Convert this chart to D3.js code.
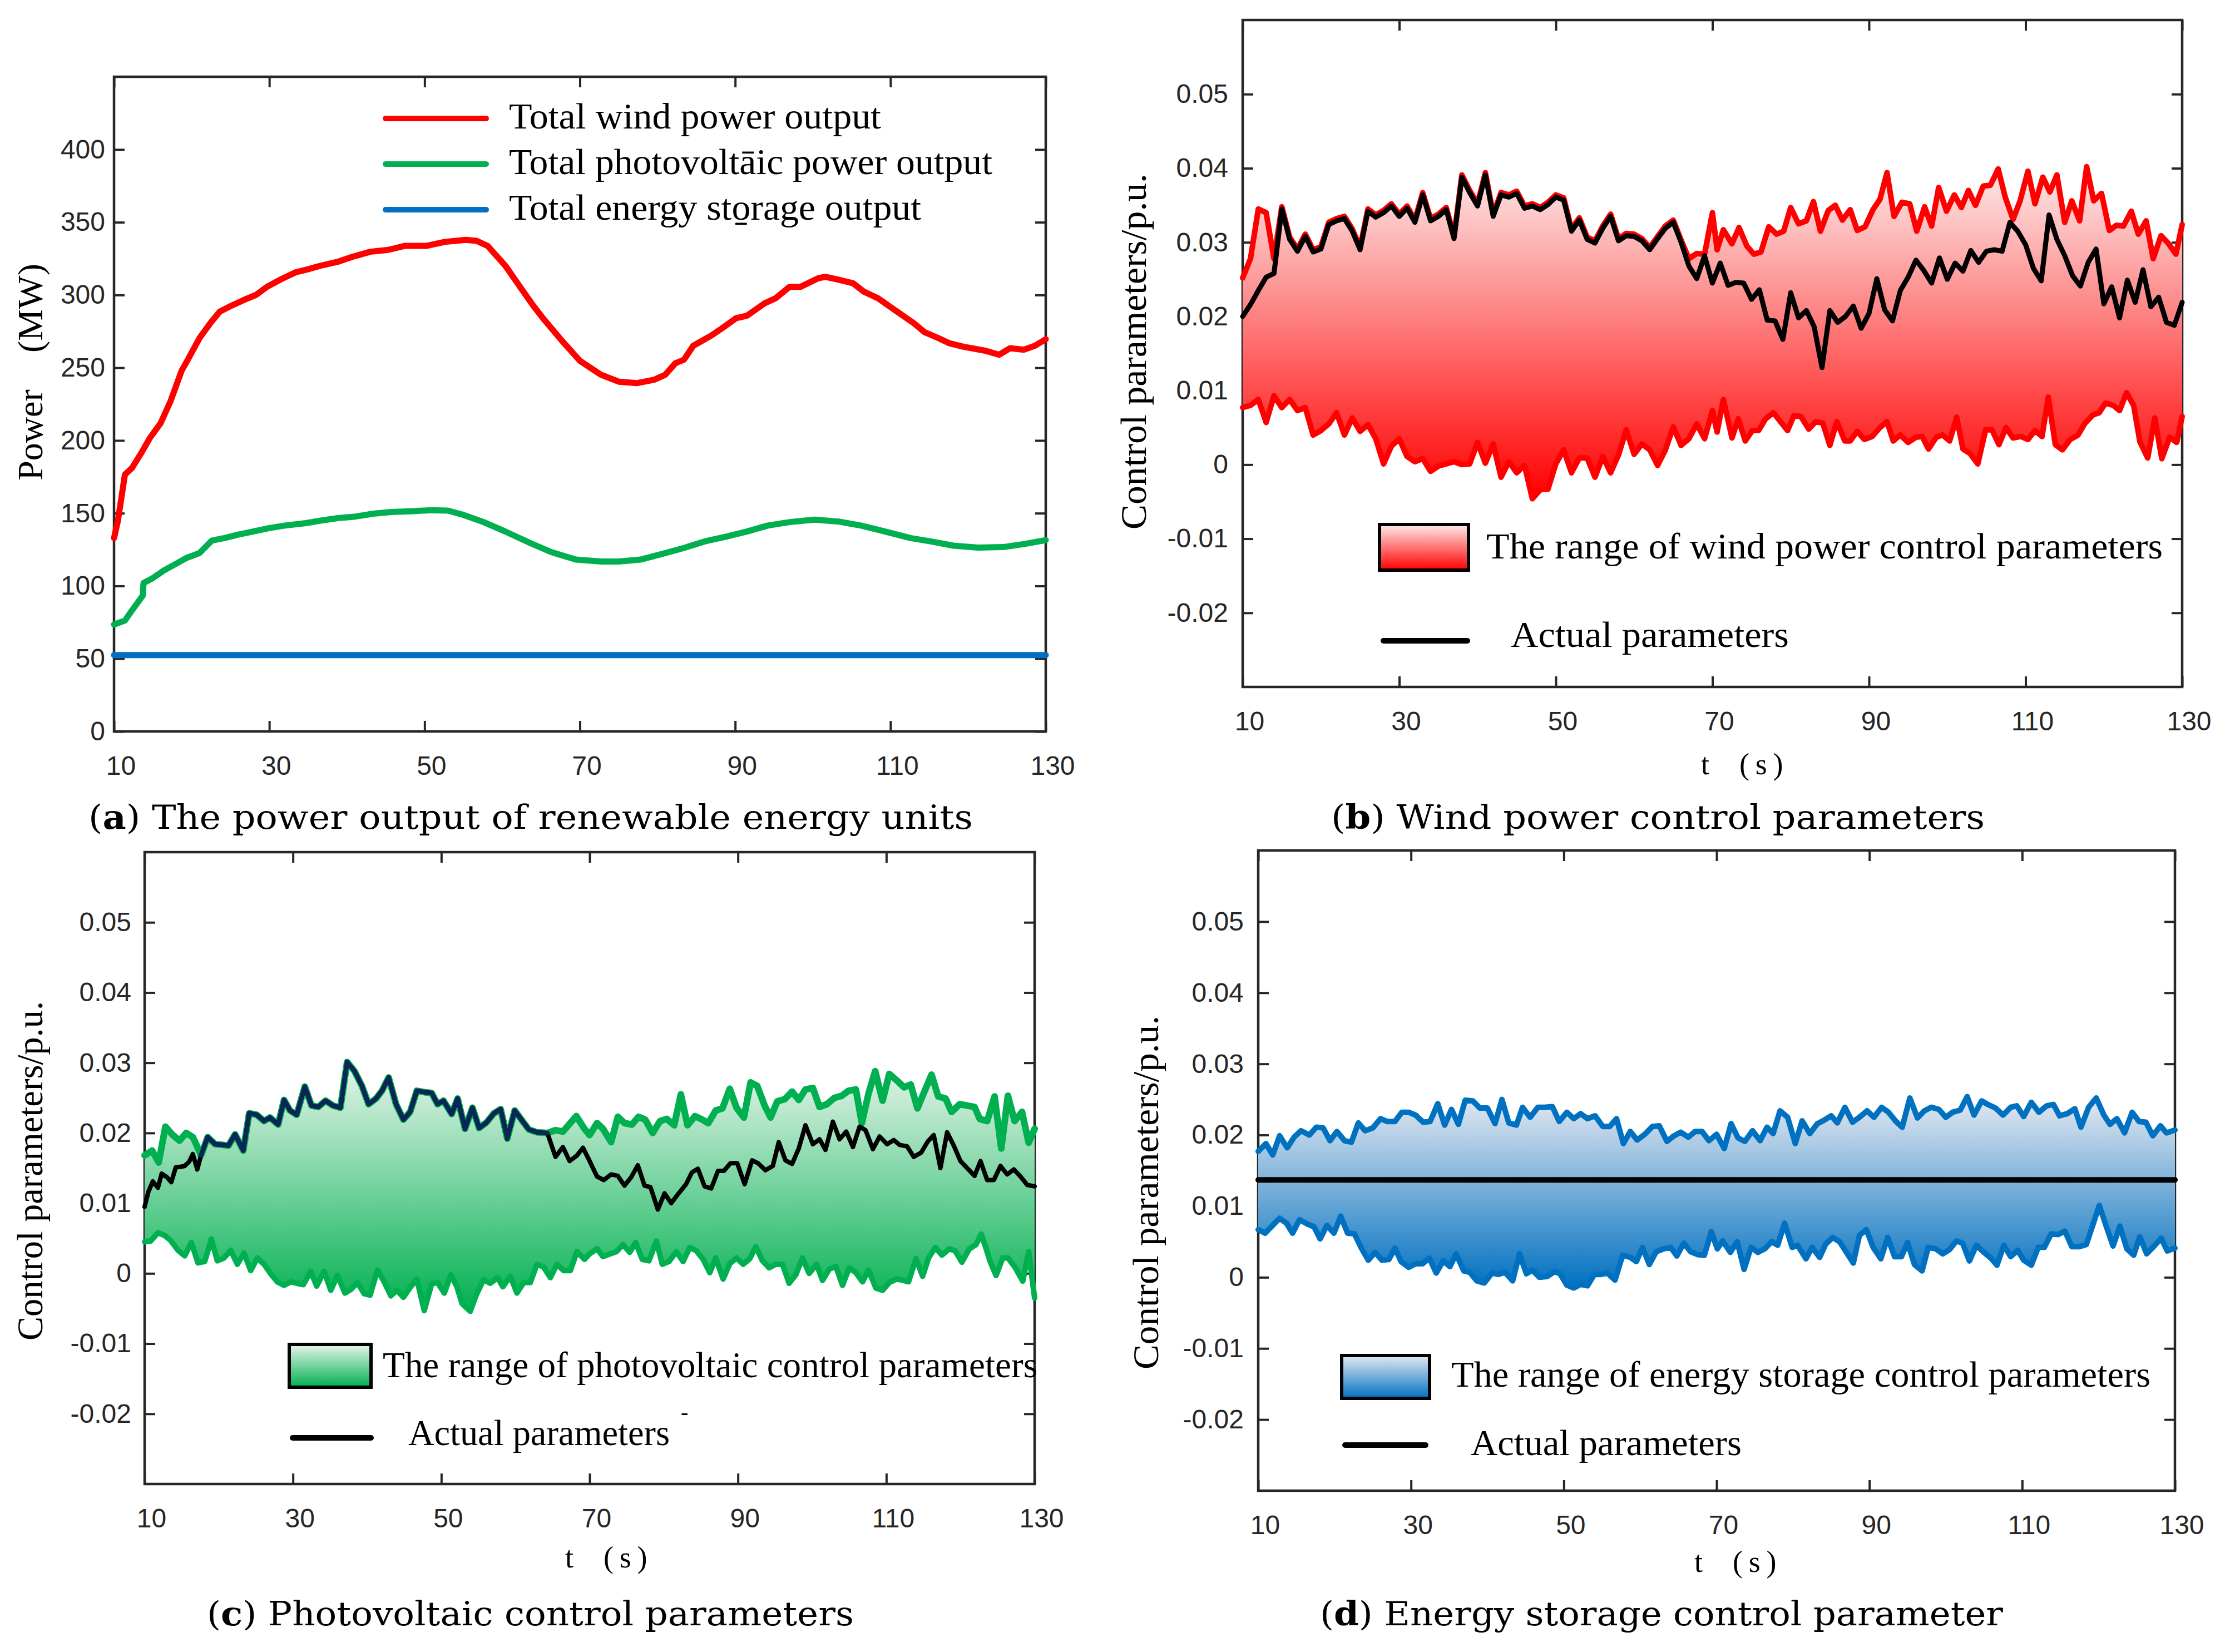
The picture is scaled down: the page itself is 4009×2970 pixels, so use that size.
<!DOCTYPE html>
<html>
<head>
<meta charset="utf-8">
<script src="https://cdn.jsdelivr.net/npm/d3@7"></script>
<style>
  body { margin: 0; background: #fff; }
  svg { display: block; }
</style>
</head>
<body>
<div id="chart"></div>
<script>
// ---------- data ----------
const tTicks = [10, 30, 50, 70, 90, 110, 130];
const powerTicks = [0, 50, 100, 150, 200, 250, 300, 350, 400];
const paramTicks = [-20, -10, 0, 10, 20, 30, 40, 50];   // x 0.001 p.u.

// (a) power output, MW   [t (s), P]
const windPower = [[10,132.9],[10.5,144.9],[11.4,176.5],[12.3,181.0],[13.5,191.3],[14.6,201.6],[16,211.9],[17.3,227.3],[18.7,247.9],[19.6,256.5],[21,270.3],[22.4,280.6],[23.6,288.5],[25.1,292.6],[26.9,297.0],[28.3,300.1],[29.7,305.6],[31.5,310.8],[33.4,315.6],[34.7,317.3],[36.6,320.1],[38.8,322.8],[40.7,326.2],[43,329.7],[45.3,331.0],[47.5,333.8],[50.3,333.8],[52.6,336.5],[55.3,337.9],[56.7,337.2],[58.1,333.8],[60.4,320.1],[62.2,306.3],[64,292.6],[65.4,283.0],[67.7,268.5],[70,254.8],[72.7,245.2],[75,240.4],[77.3,239.4],[79.6,241.8],[81,245.2],[82.3,253.1],[83.4,255.5],[84.6,265.1],[86.9,272.0],[88.3,277.1],[90.1,284.0],[91.5,285.7],[93.8,294.3],[95.2,297.7],[97,305.6],[98.4,305.6],[100.7,311.5],[101.6,312.5],[103.4,310.4],[105.2,308.0],[106.6,302.2],[108.4,297.7],[110.7,289.1],[113,280.6],[114.4,274.4],[116.2,270.3],[117.6,266.8],[119.4,264.4],[122.2,261.7],[124,258.9],[125.4,263.4],[127.2,262.4],[128.6,265.1],[130,269.6]];
const pvPower = [[10,73.5],[11.4,76.2],[12.3,83.1],[13.7,93.4],[13.8,102.0],[15,105.4],[16.4,110.6],[17.8,114.7],[19.3,119.2],[21,122.6],[22.6,131.2],[24.2,132.9],[26,135.3],[27.9,137.4],[30,139.8],[32,141.5],[34.7,143.2],[36.6,144.9],[38.8,146.6],[41.1,147.7],[43.4,149.7],[45.7,150.8],[48.5,151.4],[50.8,152.1],[53,151.8],[54.9,149.0],[57.6,143.9],[60.4,137.4],[63.6,129.5],[66.3,123.3],[69.5,118.1],[72.7,116.8],[75,116.8],[77.8,118.1],[81,122.6],[83.3,126.0],[86,130.5],[88.8,133.9],[91.5,137.4],[94.2,141.5],[97,143.9],[100.2,145.6],[103.4,144.2],[106.2,141.5],[108.9,138.0],[112.6,132.9],[115.3,130.5],[118.1,127.7],[121.3,126.4],[124.5,126.7],[127.2,128.8],[130,131.5]];
const storagePower = [[10,52.5],[130,52.5]];

// (b) wind power control parameters, x 0.001 p.u.
const windUpper = [[10,25.2],[11,27.8],[12,34.5],[13,34.0],[14,27.8],[15,34.8],[16,30.7],[17,29.1],[18,31.1],[19,29.0],[20,29.4],[21,32.7],[22,33.2],[23,33.5],[24,31.8],[25,29.3],[26,34.5],[27,33.7],[28,34.3],[29,35.2],[30,33.8],[31,34.9],[32,33.0],[33,36.7],[34,33.2],[35,33.8],[36,34.7],[37,30.8],[38,39.1],[39,37.0],[40,35.2],[41,39.4],[42,33.8],[43,36.7],[44,36.4],[45,36.9],[46,34.9],[47,35.2],[48,34.7],[49,35.4],[50,36.4],[51,36.0],[52,31.8],[53,33.3],[54,30.7],[55,30.2],[56,32.2],[57,33.8],[58,30.5],[59,31.2],[60,31.1],[61,30.5],[62,29.3],[63,30.8],[64,32.2],[65,33.0],[66,30.3],[67,27.8],[68,28.5],[69,28.4],[70,34.0],[70.6,29.0],[71.4,31.7],[72.5,29.8],[73.4,32.0],[74.4,29.5],[75.3,28.4],[76.2,28.7],[77.2,32.1],[78.2,31.1],[79.1,31.5],[80,34.7],[81,32.5],[82,32.9],[82.9,35.5],[83.8,31.5],[84.8,34.3],[85.7,35.0],[86.6,33.0],[87.6,34.4],[88.5,31.6],[89.5,32.1],[90.5,34.4],[91.4,35.8],[92.3,39.4],[93.2,33.5],[94.2,35.4],[95.2,35.2],[96.1,31.5],[97.1,34.8],[98,32.2],[98.9,37.4],[99.9,34.2],[100.9,36.4],[101.8,34.7],[102.7,37.0],[103.6,35.0],[104.6,37.6],[105.5,37.7],[106.5,39.9],[107.4,36.1],[108.4,33.1],[109.3,35.6],[110.3,39.6],[111.2,35.2],[112.2,38.8],[113.1,36.8],[114,39.1],[115,32.7],[115.9,35.6],[116.9,32.9],[117.8,40.2],[118.7,35.6],[119.7,36.6],[120.7,31.6],[121.6,32.3],[122.5,32.2],[123.5,34.2],[124.4,31.1],[125.4,32.9],[126.3,27.8],[127.3,30.9],[128.2,29.9],[129.2,28.4],[130,32.4]];
const windLower = [[10,7.7],[11,8.0],[12,8.8],[13,5.7],[14,9.3],[15,7.7],[16,8.8],[17,7.3],[18,7.7],[19,4.0],[20,4.6],[21,5.5],[22,7.0],[23,4.0],[24,6.3],[25,4.5],[26,5.4],[27,3.5],[28,0.1],[29,2.5],[30,3.5],[31,1.1],[32,0.4],[33,0.8],[34,-0.9],[35,-0.2],[36,0.1],[37,0.4],[38,0.0],[39,0.1],[40,3.0],[41,0.2],[42,2.8],[43,-1.7],[44,0.4],[45,-1.1],[46,-0.1],[47,-4.6],[48,-3.4],[49,-3.3],[50,0.1],[51,2.0],[52,-1.1],[53,0.9],[54,0.9],[55,-1.7],[56,1.1],[57,-1.1],[58,1.3],[59,4.7],[60,1.4],[61,2.8],[62,2.0],[63,-0.1],[64,2.0],[65,5.1],[66,2.6],[67,3.5],[68,5.5],[69,3.5],[70,7.3],[70.6,4.4],[71.4,8.8],[72.5,3.6],[73.3,6.2],[74.2,3.2],[75.1,4.6],[75.9,4.6],[76.8,6.2],[77.8,7.0],[78.7,5.8],[79.6,4.6],[80.4,6.6],[81.3,6.5],[82.3,4.8],[83.2,5.8],[84.1,5.6],[85,2.6],[85.9,5.8],[86.9,3.2],[87.6,3.2],[88.5,4.5],[89.4,3.4],[90.4,3.8],[91.4,5.0],[92.3,5.8],[93.1,3.2],[94,4.0],[95,3.0],[96,3.7],[96.8,3.8],[97.6,2.1],[98.6,3.7],[99.4,4.0],[100.3,3.2],[101.2,6.4],[102,2.1],[102.9,1.5],[103.9,0.1],[104.9,4.7],[105.7,4.7],[106.6,2.7],[107.5,5.0],[108.4,3.6],[109.4,3.8],[110.3,3.4],[111.2,4.6],[112.1,3.8],[112.9,9.1],[113.8,2.7],[114.7,2.0],[115.7,3.4],[116.7,4.0],[117.6,5.6],[118.6,6.7],[119.4,7.0],[120.2,8.3],[121.2,8.0],[122,7.3],[122.9,9.7],[123.8,8.0],[124.6,3.1],[125.6,0.9],[126.5,6.3],[127.4,0.8],[128.4,3.7],[129.3,3.0],[130,6.5]];
const windActual = [[10,20.0],[11,21.6],[12,23.5],[13,25.3],[14,25.8],[15,34.5],[16,30.4],[17,28.8],[18,30.8],[19,28.7],[20,29.1],[21,32.4],[22,32.9],[23,33.2],[24,31.5],[25,29.0],[26,34.2],[27,33.4],[28,34.0],[29,34.9],[30,33.5],[31,34.6],[32,32.7],[33,36.4],[34,32.9],[35,33.5],[36,34.4],[37,30.5],[38,38.8],[39,36.7],[40,34.9],[41,39.1],[42,33.5],[43,36.4],[44,36.1],[45,36.6],[46,34.6],[47,34.9],[48,34.4],[49,35.1],[50,36.1],[51,35.7],[52,31.5],[53,33.0],[54,30.4],[55,29.9],[56,31.9],[57,33.5],[58,30.2],[59,30.9],[60,30.8],[61,30.2],[62,29.0],[63,30.5],[64,31.9],[65,32.7],[66,30.0],[67,26.8],[68,25.1],[69,28.2],[70,24.5],[71,27.2],[72,24.2],[73,24.6],[74,24.5],[75,22.3],[76,23.6],[77,19.5],[78,19.4],[79,16.9],[80,23.2],[81,19.8],[82,20.8],[83,18.6],[84,13.1],[85,20.8],[86,19.2],[87,20.0],[88,21.4],[89,18.4],[90,20.4],[91,25.1],[92,20.9],[93,19.4],[94,23.5],[95,25.3],[96,27.6],[97,26.2],[98,24.5],[99,27.9],[100,25.0],[101,27.2],[102,26.1],[103,28.9],[104,27.3],[105,28.8],[106,29.0],[107,28.8],[108,32.7],[109,31.5],[110,29.7],[111,26.5],[112,24.8],[113,33.7],[114,30.4],[115,28.2],[116,25.5],[117,24.1],[118,27.3],[119,29.1],[120,21.7],[121,24.0],[122,19.8],[123,24.9],[124,21.9],[125,26.3],[126,21.3],[127,22.6],[128,19.2],[129,18.8],[130,21.9]];

// (c) photovoltaic control parameters, x 0.001 p.u.
const pvUpper = [[10,16.8],[11,17.5],[11.9,15.8],[12.8,20.9],[13.7,19.8],[14.7,18.9],[15.6,20.0],[16.5,19.4],[17,18.3],[17.6,16.8],[18.5,19.4],[19.5,18.4],[20.5,18.3],[21.3,18.2],[22.2,19.8],[23.3,17.5],[24.1,22.8],[25.1,22.6],[26.1,21.7],[26.9,22.2],[28,21.2],[28.8,24.7],[29.6,23.2],[30.5,22.6],[31.6,26.6],[32.5,23.9],[33.4,23.7],[34.4,24.6],[35.4,23.9],[36.4,23.6],[37.3,30.1],[38.3,28.8],[39.3,26.7],[40.2,24.1],[41.2,24.9],[42,26.0],[42.9,27.9],[43.9,24.1],[44.9,21.9],[45.8,23.0],[46.7,26.0],[47.8,25.8],[48.7,25.7],[49.5,24.1],[50.3,24.6],[51.4,22.7],[52.2,24.9],[53.2,20.6],[54.2,23.6],[55.1,20.7],[56.1,21.5],[57.1,22.8],[58,23.4],[58.9,19.2],[59.9,23.2],[60.8,21.9],[61.8,20.5],[62.9,20.1],[64.3,20.0],[65.4,20.4],[66.4,20.2],[67.3,21.3],[68.2,22.4],[69.3,20.6],[70,19.7],[71,21.4],[71.8,20.6],[72.9,18.7],[73.8,22.3],[74.7,21.4],[75.7,21.2],[76.6,22.3],[77.5,21.9],[78.5,20.0],[79.5,21.7],[80.4,22.0],[81.4,21.1],[82.3,25.5],[83.2,21.1],[84.2,22.4],[85.2,21.9],[86,21.4],[87,23.2],[87.9,23.5],[88.9,26.3],[89.8,23.6],[90.8,22.2],[91.7,27.2],[92.6,26.7],[93.6,23.9],[94.4,22.2],[95.3,24.5],[96.3,24.8],[97.3,25.9],[98.2,24.7],[99.1,26.2],[100.1,26.4],[101,23.7],[102,24.1],[103,25.0],[104,25.3],[104.9,26.0],[105.9,26.2],[106.7,21.4],[107.6,25.6],[108.5,28.8],[109.5,24.6],[110.4,28.4],[111.4,27.5],[112.4,26.5],[113.3,26.9],[114.2,23.5],[115.1,25.8],[116.1,28.3],[117,25.2],[118,24.9],[118.8,23.0],[119.9,24.1],[120.9,23.9],[121.9,23.7],[122.6,22.0],[123.6,21.7],[124.6,25.2],[125.5,17.8],[126.4,25.3],[127.3,21.7],[128.3,23.0],[129.2,18.6],[130,20.6]];
const pvLower = [[10,4.5],[10.8,4.6],[11.8,5.8],[12.7,5.4],[13.5,4.7],[14.5,3.3],[15.4,2.5],[16.3,4.4],[17.2,1.5],[18.1,1.7],[19,4.9],[19.8,1.8],[20.7,2.2],[21.6,3.3],[22.5,1.3],[23.4,2.9],[24.3,0.4],[25.2,2.2],[26.1,1.3],[27.1,-0.2],[27.9,-1.2],[28.8,-1.7],[29.7,-1.2],[30.5,-1.4],[31.4,-1.6],[32.4,0.3],[33.2,-1.8],[34.2,0.3],[35.1,-2.4],[36,-0.3],[37,-2.8],[37.8,-2.3],[38.7,-1.3],[39.6,-2.9],[40.4,-3.1],[41.4,0.5],[42.3,-1.2],[43.2,-3.2],[44,-2.4],[44.9,-3.4],[45.8,-2.0],[46.7,-0.8],[47.7,-5.3],[48.7,-1.5],[49.5,-1.3],[50.4,-2.8],[51.3,-0.2],[52.1,-1.9],[52.8,-4.3],[53.9,-5.4],[54.7,-3.1],[55.7,-0.9],[56.6,-1.4],[57.6,-0.6],[58.3,-1.9],[59.3,-0.4],[60.2,-2.8],[61.1,-1.3],[62,-1.3],[62.9,1.3],[63.8,0.9],[64.7,-0.6],[65.6,1.3],[66.5,0.4],[67.4,0.4],[68.3,3.1],[69.3,2.0],[70,2.8],[71,3.5],[71.8,2.4],[72.8,2.8],[73.6,3.1],[74.5,4.1],[75.4,3.0],[76.2,4.4],[77.1,2.0],[78,1.8],[79,4.6],[79.8,1.3],[80.7,1.7],[81.7,3.1],[82.6,1.7],[83.5,3.7],[84.4,3.2],[85.3,2.0],[86.2,0.1],[87,2.2],[88,-0.8],[88.9,1.4],[89.8,2.2],[90.7,1.3],[91.6,2.1],[92.4,3.8],[93.3,1.8],[94.2,0.8],[95.1,1.3],[96,1.3],[96.9,-1.4],[97.8,-0.2],[98.7,2.2],[99.6,0.0],[100.6,1.3],[101.4,-1.0],[102.3,0.6],[103.2,1.0],[104.1,-1.7],[105,0.8],[105.9,0.1],[106.8,-1.2],[107.6,0.5],[108.6,-2.1],[109.5,-2.4],[110.4,-1.3],[111.4,-0.8],[112.3,-1.0],[113,-1.2],[114,2.1],[114.9,-0.4],[115.7,2.2],[116.6,3.7],[117.5,2.6],[118.5,3.5],[119.3,3.2],[120.2,1.6],[121.2,3.5],[122.1,4.1],[122.8,5.6],[123.5,3.4],[124,1.7],[124.8,-0.3],[125.7,2.2],[126.4,2.2],[127.4,0.8],[128.4,-1.1],[129.2,3.1],[130,-3.5]];
const pvActual = [[10,9.5],[10.5,11.6],[11.1,13.1],[11.8,12.2],[12.3,14.2],[13,13.7],[13.6,13.0],[14.2,15.1],[14.9,15.2],[15.4,15.3],[16,15.9],[16.5,17.0],[17.1,14.8],[17.6,16.8],[18.5,19.4],[19.5,18.4],[20.5,18.3],[21.3,18.2],[22.2,19.8],[23.3,17.5],[24.1,22.8],[25.1,22.6],[26.1,21.7],[26.9,22.2],[28,21.2],[28.8,24.7],[29.6,23.2],[30.5,22.6],[31.6,26.6],[32.5,23.9],[33.4,23.7],[34.4,24.6],[35.4,23.9],[36.4,23.6],[37.3,30.1],[38.3,28.8],[39.3,26.7],[40.2,24.1],[41.2,24.9],[42,26.0],[42.9,27.9],[43.9,24.1],[44.9,21.9],[45.8,23.0],[46.7,26.0],[47.8,25.8],[48.7,25.7],[49.5,24.1],[50.3,24.6],[51.4,22.7],[52.2,24.9],[53.2,20.6],[54.2,23.6],[55.1,20.7],[56.1,21.5],[57.1,22.8],[58,23.4],[58.9,19.2],[59.9,23.2],[60.8,21.9],[61.8,20.5],[62.9,20.1],[64.3,20.0],[65.4,16.6],[66.4,18.0],[67.3,16.0],[68.3,16.8],[69.1,17.9],[70,16.0],[71,13.8],[71.9,13.3],[72.9,14.1],[73.8,13.9],[74.7,12.5],[75.6,13.7],[76.5,15.4],[77.4,12.5],[78.2,12.3],[79.2,9.1],[80.1,11.4],[81,10.0],[82,11.4],[83,12.7],[83.8,14.4],[84.6,14.9],[85.5,12.4],[86.4,12.1],[87.3,14.6],[88.1,14.6],[89,15.7],[89.9,15.7],[90.9,12.7],[91.9,16.1],[92.7,15.7],[93.7,14.7],[94.7,15.3],[95.5,18.7],[96.4,16.1],[97.3,15.6],[98.2,17.8],[99.1,21.1],[100.1,18.4],[101,19.1],[101.8,17.6],[102.8,21.6],[103.7,19.1],[104.6,20.2],[105.5,18.0],[106.4,20.9],[107.2,20.4],[108.2,17.7],[109.1,19.5],[110.1,18.4],[111,19.0],[111.8,18.3],[112.8,18.1],[113.7,16.6],[114.7,17.2],[115.6,18.8],[116.4,19.7],[117.3,15.0],[118.2,20.1],[119.1,18.2],[120,16.0],[120.9,15.0],[121.9,13.9],[122.7,16.0],[123.6,13.3],[124.5,13.3],[125.4,15.3],[126.3,14.1],[127.2,14.8],[128.1,13.8],[129,12.6],[130,12.4]];

// (d) energy storage control parameters, x 0.001 p.u.
const esUpper = [[10,17.7],[11,18.8],[11.9,17.2],[12.8,19.9],[13.8,18.2],[14.7,19.7],[15.6,20.6],[16.7,20.0],[17.6,21.1],[18.5,21.0],[19.4,19.2],[20.3,20.5],[21.3,19.2],[22.2,19.0],[23.1,21.7],[24,20.6],[25,21.0],[26,22.3],[26.9,21.9],[27.9,21.9],[28.8,23.2],[29.7,23.2],[30.6,22.8],[31.6,21.8],[32.5,21.9],[33.5,24.4],[34.4,21.4],[35.3,23.6],[36.2,21.5],[37.1,24.9],[38.1,24.8],[39,23.8],[40,23.8],[41,21.6],[41.9,25.0],[42.8,21.7],[43.8,21.4],[44.6,23.9],[45.6,22.5],[46.6,23.9],[47.5,23.9],[48.5,24.0],[49.4,21.9],[50.4,23.2],[51.3,22.3],[52.2,23.0],[53.1,22.3],[54.1,22.7],[55.1,21.2],[56,21.2],[56.9,22.3],[57.8,18.8],[58.7,20.5],[59.6,19.3],[60.6,20.1],[61.6,21.2],[62.5,21.3],[63.5,19.1],[64.3,19.8],[65.3,20.4],[66.3,19.7],[67.2,20.5],[68.1,20.5],[69,19.2],[70,20.1],[71,18.1],[71.9,21.6],[72.8,19.6],[73.7,19.1],[74.7,20.6],[75.7,19.2],[76.6,21.1],[77.4,20.2],[78.3,23.4],[79.3,22.5],[80.3,18.8],[81.2,22.0],[82.2,20.2],[83.2,21.6],[84.1,22.1],[85,22.7],[85.8,21.7],[86.8,23.9],[87.8,21.8],[88.7,22.5],[89.7,23.4],[90.6,22.5],[91.6,23.9],[92.5,23.2],[93.4,22.0],[94.3,21.1],[95.3,25.2],[96.3,22.4],[97.2,23.4],[98.1,23.9],[99.1,23.6],[100,22.5],[100.9,23.2],[101.9,23.5],[102.8,25.4],[103.7,22.8],[104.7,24.8],[105.5,24.3],[106.5,23.8],[107.5,22.8],[108.5,23.9],[109.3,24.1],[110.2,22.6],[111.2,24.6],[112.2,23.2],[113.2,24.1],[114.1,24.3],[114.9,22.7],[115.9,23.0],[116.9,23.7],[117.7,21.1],[118.7,23.9],[119.7,25.2],[120.7,22.8],[121.5,21.5],[122.4,22.3],[123.4,20.3],[124.4,23.2],[125.3,21.9],[126.2,21.8],[127.1,19.9],[128.1,21.3],[128.9,20.3],[130,20.7]];
const esLower = [[10,6.7],[10.9,6.2],[11.8,7.2],[12.8,8.3],[13.7,7.6],[14.5,6.2],[15.4,8.1],[16.4,7.5],[17.3,7.1],[18.1,5.4],[19,7.3],[19.9,6.2],[20.8,8.6],[21.7,6.2],[22.6,6.1],[23.5,4.1],[24.4,2.4],[25.3,3.5],[26.2,2.4],[27.1,2.5],[27.9,4.1],[28.7,2.2],[29.7,1.4],[30.6,1.9],[31.5,1.9],[32.4,2.7],[33.3,0.6],[34.2,2.3],[35.1,1.5],[35.9,3.3],[36.9,0.9],[37.7,0.7],[38.6,-0.5],[39.6,-0.8],[40.6,0.6],[41.4,0.4],[42.3,0.7],[43.3,-0.5],[44.2,3.3],[45.1,0.5],[45.9,1.0],[46.8,0.0],[47.8,0.1],[48.8,0.8],[49.5,0.5],[50.4,-1.1],[51.3,-1.5],[52.2,-1.0],[53.1,-1.2],[54,0.4],[54.9,0.4],[55.7,0.6],[56.7,-0.4],[57.7,3.1],[58.7,2.8],[59.5,2.2],[60.3,4.2],[61.2,1.8],[62.1,3.6],[63.1,4.0],[64,4.2],[64.8,3.0],[65.7,4.8],[66.6,3.6],[67.5,3.2],[68.4,3.1],[69.3,6.4],[70.1,4.0],[70.8,5.1],[71.8,3.5],[72.7,5.0],[73.6,1.1],[74.5,4.2],[75.4,3.5],[76.3,4.0],[77.2,5.0],[78,4.5],[78.9,7.6],[79.9,4.2],[80.6,4.5],[81.7,2.6],[82.5,4.2],[83.5,2.8],[84.3,4.7],[85.2,5.6],[86.1,5.0],[87,3.5],[87.9,2.0],[88.7,5.9],[89.6,6.7],[90.5,4.2],[91.5,2.6],[92.4,5.6],[93.3,2.9],[94.2,2.9],[95,4.9],[95.9,1.8],[96.9,0.9],[97.7,4.2],[98.7,4.0],[99.6,3.3],[100.5,3.9],[101.4,5.1],[102.2,4.8],[103.1,2.3],[104,4.5],[104.9,3.6],[105.9,2.7],[106.7,1.7],[107.6,4.5],[108.5,2.9],[109.4,3.8],[110.2,2.4],[111.2,1.7],[112.1,4.2],[112.9,4.2],[113.8,6.1],[114.7,6.0],[115.6,6.5],[116.5,4.3],[117.5,4.3],[118.4,4.6],[119.3,7.5],[120.1,10.1],[121,7.2],[121.9,4.4],[122.8,7.2],[123.7,4.0],[124.6,3.1],[125.4,5.7],[126.3,3.3],[127.3,4.4],[128.2,5.5],[129,3.7],[130,4.1]];
const esActual = [[10,13.7],[130,13.7]];

// ---------- drawing ----------
const W = 4009, H = 2970;
const AXIS = '#262626';
const SANS = '"Liberation Sans", Arial, sans-serif';
const SERIF = '"Liberation Serif", "Times New Roman", serif';
const CAPTION = '"DejaVu Serif", "Liberation Serif", serif';
const TICK = 19;

const svg = d3.select('#chart').append('svg')
  .attr('width', W).attr('height', H).attr('viewBox', `0 0 ${W} ${H}`);
svg.append('rect').attr('width', W).attr('height', H).attr('fill', '#fff');
const defs = svg.append('defs');

function gradient(id, top, bottom) {
  const g = defs.append('linearGradient').attr('id', id)
    .attr('x1', 0).attr('y1', 0).attr('x2', 0).attr('y2', 1);
  g.append('stop').attr('offset', 0).attr('stop-color', top);
  g.append('stop').attr('offset', 1).attr('stop-color', bottom);
  return `url(#${id})`;
}
const redFill = gradient('gRed', '#fdeaea', '#ff0000');
const greenFill = gradient('gGreen', '#e8f5ec', '#00b050');
const blueFill = gradient('gBlue', '#e5e9f1', '#0070c0');

const pFmt = d => d === 0 ? '0' : (d / 1000).toFixed(2);

function frame(box, yDom, yTicks, yFmt, yPad) {
  const x = d3.scaleLinear().domain([10, 130]).range([box.x0, box.x1]);
  const y = d3.scaleLinear().domain(yDom).range([box.y1, box.y0]);
  const g = svg.append('g');
  g.append('g').attr('transform', `translate(0,${box.y1})`)
    .call(d3.axisBottom(x).tickValues(tTicks).tickSize(-TICK).tickPadding(44).tickSizeOuter(0))
    .call(a => a.selectAll('text').attr('dx', 12));
  g.append('g').attr('transform', `translate(0,${box.y0})`)
    .call(d3.axisTop(x).tickValues(tTicks).tickSize(-TICK).tickFormat('').tickSizeOuter(0));
  g.append('g').attr('transform', `translate(${box.x0},0)`)
    .call(d3.axisLeft(y).tickValues(yTicks).tickSize(-TICK).tickPadding(yPad).tickFormat(yFmt).tickSizeOuter(0));
  g.append('g').attr('transform', `translate(${box.x1},0)`)
    .call(d3.axisRight(y).tickValues(yTicks).tickSize(-TICK).tickFormat('').tickSizeOuter(0));
  g.selectAll('.domain').remove();
  g.selectAll('.tick line').attr('stroke', AXIS).attr('stroke-width', 4);
  g.selectAll('.tick text').attr('fill', AXIS).attr('font-family', SANS).attr('font-size', 48);
  g.append('rect').attr('x', box.x0).attr('y', box.y0)
    .attr('width', box.x1 - box.x0).attr('height', box.y1 - box.y0)
    .attr('fill', 'none').attr('stroke', AXIS).attr('stroke-width', 4.5);
  return { x, y };
}

function line(sc, data, color, width) {
  svg.append('path')
    .attr('d', d3.line().x(p => sc.x(p[0])).y(p => sc.y(p[1]))(data))
    .attr('fill', 'none').attr('stroke', color).attr('stroke-width', width)
    .attr('stroke-linejoin', 'round').attr('stroke-linecap', 'round');
}

function band(sc, upper, lower, fill) {
  const pts = upper.concat(lower.slice().reverse()).map(p => [sc.x(p[0]), sc.y(p[1])]);
  svg.append('path').attr('d', d3.line()(pts) + 'Z').attr('fill', fill);
}

function text(x, y, str, opts = {}) {
  const t = svg.append('text').attr('x', x).attr('y', y)
    .attr('font-family', opts.family || SERIF).attr('font-size', opts.size || 66)
    .attr('fill', opts.fill || '#000').attr('text-anchor', opts.anchor || 'start')
    .style('white-space', 'pre').text(str);
  if (opts.len) t.attr('textLength', opts.len).attr('lengthAdjust', 'spacingAndGlyphs');
  if (opts.rotate) t.attr('transform', `rotate(-90,${x},${y})`);
  return t;
}

function caption(x, y, letter, rest, len) {
  const t = svg.append('text').attr('x', x).attr('y', y)
    .attr('font-family', CAPTION).attr('font-size', 60).attr('fill', '#000')
    .attr('textLength', len).attr('lengthAdjust', 'spacingAndGlyphs');
  t.append('tspan').text('(');
  t.append('tspan').attr('font-weight', 'bold').text(letter);
  t.append('tspan').text(') ' + rest);
}

function swatch(x, y, w, h, fill) {
  svg.append('rect').attr('x', x).attr('y', y).attr('width', w).attr('height', h)
    .attr('fill', fill).attr('stroke', '#000').attr('stroke-width', 6);
}
function legendLine(x0, x1, y, color) {
  svg.append('line').attr('x1', x0).attr('x2', x1).attr('y1', y).attr('y2', y)
    .attr('stroke', color).attr('stroke-width', 10).attr('stroke-linecap', 'round');
}

// ----- (a) -----
const sa = frame({ x0: 205, x1: 1880, y0: 138, y1: 1315 }, [0, 450], powerTicks, d3.format('d'), 16);
line(sa, storagePower, '#0070c0', 11);
line(sa, pvPower, '#00b050', 11);
line(sa, windPower, '#ff0000', 11);
legendLine(693, 874, 213, '#ff0000');
legendLine(693, 874, 295, '#00b050');
legendLine(693, 874, 377, '#0070c0');
text(915, 231, 'Total wind power output', { len: 669 });
text(915, 313, 'Total photovolta\u0304ic power output', { len: 869 });
text(915, 395, 'Total energy sto\u0331rage output', { len: 741 });
text(76, 782, 'Power', { anchor: 'middle', size: 64, rotate: true });
text(76, 554, '(MW)', { anchor: 'middle', size: 64, rotate: true });
caption(159, 1490, 'a', 'The power output of renewable energy units', 1590);

// ----- (b) -----
const sb = frame({ x0: 2234, x1: 3923, y0: 36, y1: 1235 }, [-30, 60], paramTicks, pFmt, 26);
band(sb, windUpper, windLower, redFill);
line(sb, windLower, '#ff0000', 10);
line(sb, windUpper, '#ff0000', 10);
line(sb, windActual, '#000', 9);
swatch(2480, 943, 160, 82, redFill);
text(2672, 1004, 'The range of wind power control parameters', { len: 1216 });
legendLine(2487, 2638, 1152, '#000');
text(2716, 1163, 'Actual parameters', { len: 500 });
text(2060, 632, 'Control parameters/p.u.', { anchor: 'middle', size: 66, rotate: true, len: 640 });
text(3058, 1392, 't\u2003(\u2009s\u2009)', { size: 54 });
caption(2393, 1490, 'b', 'Wind power control parameters', 1175);

// ----- (c) -----
const sc = frame({ x0: 260, x1: 1860, y0: 1532, y1: 2668 }, [-30, 60], paramTicks, pFmt, 24);
band(sc, pvUpper, pvLower, greenFill);
line(sc, pvLower, '#00b050', 10);
line(sc, pvUpper, '#00b050', 12);
line(sc, pvActual, '#000', 8);
// stretches where the actual parameters sit on the upper limit are drawn in navy
const upKeys = new Set(pvUpper.map(p => p.join()));
let run = [];
pvActual.concat([[NaN, NaN]]).forEach(p => {
  if (upKeys.has(p.join())) run.push(p);
  else { if (run.length > 1) line(sc, run, '#0b2459', 8); run = []; }
});
swatch(520, 2417, 147, 77, greenFill);
text(688, 2476, 'The range of photovoltaic control parameters', { len: 1177 });
legendLine(526, 667, 2585, '#000');
text(734, 2598, 'Actual parameters', { len: 470 });
text(1224, 2552, '-', { size: 40 });
text(76, 2105, 'Control parameters/p.u.', { anchor: 'middle', size: 66, rotate: true, len: 610 });
text(1016, 2818, 't\u2003(\u2009s\u2009)', { size: 54 });
caption(372, 2922, 'c', 'Photovoltaic control parameters', 1163);

// ----- (d) -----
const sd = frame({ x0: 2262, x1: 3910, y0: 1529, y1: 2680 }, [-30, 60], paramTicks, pFmt, 26);
band(sd, esUpper, esLower, blueFill);
line(sd, esLower, '#0070c0', 10);
line(sd, esUpper, '#0070c0', 10);
line(sd, esActual, '#000', 10);
swatch(2412, 2437, 158, 77, blueFill);
text(2609, 2493, 'The range of energy storage control parameters', { len: 1257 });
legendLine(2418, 2563, 2598, '#000');
text(2644, 2616, 'Actual parameters', { len: 487 });
text(2082, 2144, 'Control parameters/p.u.', { anchor: 'middle', size: 66, rotate: true, len: 636 });
text(3046, 2826, 't\u2003(\u2009s\u2009)', { size: 54 });
caption(2373, 2922, 'd', 'Energy storage control parameter', 1228);
</script>
</body>
</html>
